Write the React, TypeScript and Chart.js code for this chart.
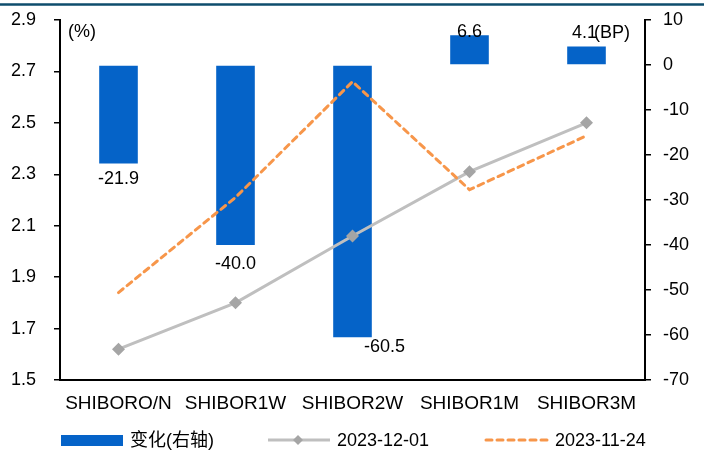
import React, { useEffect, useRef } from "react";
import { Chart, registerables } from "chart.js";

Chart.register(...registerables);

// SHIBOR tenors and values
const categories = ["SHIBORO/N", "SHIBOR1W", "SHIBOR2W", "SHIBOR1M", "SHIBOR3M"];
const changeBp = [-21.9, -40.0, -60.5, 6.6, 4.1];
const rate20231201 = [1.62, 1.8, 2.06, 2.31, 2.5];
const rate20231124 = [1.84, 2.21, 2.66, 2.24, 2.45];
const leftTicks = [1.5, 1.7, 1.9, 2.1, 2.3, 2.5, 2.7, 2.9];
const rightTicks = [-70, -60, -50, -40, -30, -20, -10, 0, 10];
const seriesNames = ["变化(右轴)", "2023-12-01", "2023-11-24"];

// label nudges (px) relative to each bar end
const labelShift: [number, number][] = [[0, 15], [0, 19], [32, 10], [0, -3], [-2, -14]];

const FONT = "'Liberation Sans', Arial, 'Noto Sans CJK SC', sans-serif";
const BLUE = "#0563C8";
const GRAY_LINE = "#BFBFBF";
const GRAY_MARK = "#A5A5A5";
const ORANGE = "#F7964A";

const decor = {
  id: "decor",
  beforeDraw(chart: any) {
    const ctx = chart.ctx;
    ctx.save();
    ctx.fillStyle = "#ffffff";
    ctx.fillRect(0, 0, chart.width, chart.height);
    ctx.strokeStyle = "#0E4D6C";
    ctx.lineWidth = 2.5;
    ctx.beginPath();
    ctx.moveTo(0, 4.5);
    ctx.lineTo(704, 4.5);
    ctx.stroke();
    ctx.restore();
  },
  afterDatasetsDraw(chart: any) {
    const ctx = chart.ctx;
    const area = chart.chartArea;
    ctx.save();
    ctx.fillStyle = "#000";
    ctx.font = `18px ${FONT}`;
    ctx.textBaseline = "middle";

    // value labels on bars
    ctx.textAlign = "center";
    const meta = chart.getDatasetMeta(0);
    meta.data.forEach((el: any, i: number) => {
      const [dx, dy] = labelShift[i];
      ctx.fillText(changeBp[i].toFixed(1), el.x + dx, el.y + dy);
    });

    // unit labels
    ctx.textAlign = "left";
    ctx.fillText("(%)", area.left + 8, area.top + 12);
    ctx.textAlign = "right";
    ctx.fillText("(BP)", area.right - 15, area.top + 13);

    // legend
    const ly = 440;
    ctx.textAlign = "left";
    ctx.fillStyle = BLUE;
    ctx.fillRect(61, ly - 5, 62, 11);
    ctx.fillStyle = "#000";
    ctx.fillText(seriesNames[0], 130, ly + 1);

    ctx.strokeStyle = GRAY_LINE;
    ctx.lineWidth = 3;
    ctx.beginPath();
    ctx.moveTo(268, ly);
    ctx.lineTo(330, ly);
    ctx.stroke();
    ctx.fillStyle = GRAY_MARK;
    ctx.beginPath();
    ctx.moveTo(298, ly - 5);
    ctx.lineTo(303, ly);
    ctx.lineTo(298, ly + 5);
    ctx.lineTo(293, ly);
    ctx.closePath();
    ctx.fill();
    ctx.fillStyle = "#000";
    ctx.fillText(seriesNames[1], 337, ly + 1);

    ctx.strokeStyle = ORANGE;
    ctx.setLineDash([6, 5]);
    ctx.lineCap = "round";
    ctx.beginPath();
    ctx.moveTo(486, ly);
    ctx.lineTo(547, ly);
    ctx.stroke();
    ctx.setLineDash([]);
    ctx.fillStyle = "#000";
    ctx.fillText(seriesNames[2], 555, ly + 1);
    ctx.restore();
  },
};

export default function App() {
  const canvasRef = useRef<HTMLCanvasElement | null>(null);

  useEffect(() => {
    const canvas = canvasRef.current;
    if (!canvas) return;
    const chart = new Chart(canvas, {
      type: "bar",
      data: {
        labels: categories,
        datasets: [
          {
            type: "bar",
            label: seriesNames[0],
            data: changeBp,
            yAxisID: "y1",
            backgroundColor: BLUE,
            borderWidth: 0,
            categoryPercentage: 0.33,
            barPercentage: 1,
            order: 3,
          },
          {
            type: "line",
            label: seriesNames[1],
            data: rate20231201,
            yAxisID: "y",
            borderColor: GRAY_LINE,
            borderWidth: 3,
            pointStyle: "rectRot",
            pointRadius: 6.5,
            pointBackgroundColor: GRAY_MARK,
            pointBorderColor: GRAY_MARK,
            pointBorderWidth: 0,
            tension: 0,
            order: 2,
          },
          {
            type: "line",
            label: seriesNames[2],
            data: rate20231124,
            yAxisID: "y",
            borderColor: ORANGE,
            borderWidth: 3,
            borderDash: [6, 5],
            borderCapStyle: "round",
            pointRadius: 0,
            tension: 0,
            order: 1,
          },
        ] as any,
      },
      options: {
        responsive: false,
        animation: false,
        devicePixelRatio: 1,
        layout: { padding: { top: 20, left: 0, right: 0, bottom: 0 } },
        plugins: {
          legend: { display: false },
          tooltip: { enabled: false },
        },
        scales: {
          x: {
            offset: true,
            grid: { display: true, drawOnChartArea: false, drawTicks: false },
            border: { display: true, color: "#000", width: 2 },
            ticks: {
              color: "#000",
              font: { family: FONT, size: 19 },
              padding: 12,
              maxRotation: 0,
              autoSkip: false,
            },
            afterFit: (s: any) => {
              s.height = 72;
            },
          },
          y: {
            position: "left",
            min: 1.5,
            max: 2.9,
            afterBuildTicks: (s: any) => {
              s.ticks = leftTicks.map((v) => ({ value: v }));
            },
            grid: { display: true, drawOnChartArea: false, drawTicks: true, tickLength: 6, color: "#000", lineWidth: 1.5 },
            border: { display: true, color: "#000", width: 2 },
            ticks: {
              color: "#000",
              font: { family: FONT, size: 18 },
              padding: 18,
              callback: (v: any) => Number(v).toFixed(1),
            },
            afterFit: (s: any) => {
              s.width = 60;
              s.paddingTop = 0;
              s.paddingBottom = 0;
            },
          },
          y1: {
            position: "right",
            min: -70,
            max: 10,
            afterBuildTicks: (s: any) => {
              s.ticks = rightTicks.map((v) => ({ value: v }));
            },
            grid: { display: true, drawOnChartArea: false, drawTicks: true, tickLength: 6, color: "#000", lineWidth: 1.5 },
            border: { display: true, color: "#000", width: 2 },
            ticks: {
              color: "#000",
              font: { family: FONT, size: 18 },
              padding: 12,
              callback: (v: any) => String(v),
            },
            afterFit: (s: any) => {
              s.width = 67;
              s.paddingTop = 0;
              s.paddingBottom = 0;
            },
          },
        },
      } as any,
      plugins: [decor],
    });
    return () => chart.destroy();
  }, []);

  return (
    <div style={{ position: "fixed", left: 0, top: 0, width: 712, height: 452, background: "#fff" }}>
      <canvas ref={canvasRef} width={712} height={452} style={{ display: "block" }} />
    </div>
  );
}
